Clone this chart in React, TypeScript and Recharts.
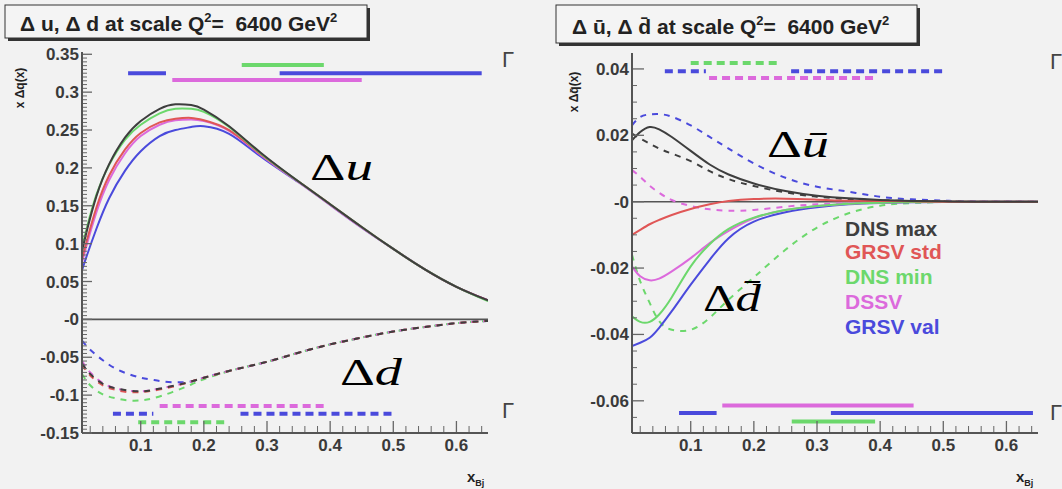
import React from 'react';
import { LineChart, Line, XAxis, YAxis, ReferenceLine } from 'recharts';

// ---------- models ----------
const models = ['DNS max', 'GRSV std', 'DNS min', 'DSSV', 'GRSV val'];
const modelColors = ['#3e3e3e', '#e05656', '#6cd86c', '#dc6adc', '#4a4adc'];

// ---------- left panel: x Δu (solid), x Δd (dashed) ----------
const xDu = [0.007, 0.015, 0.03, 0.05, 0.075, 0.1, 0.13, 0.155, 0.18, 0.2, 0.24, 0.29, 0.35, 0.4, 0.45, 0.5, 0.55, 0.6, 0.65];
const duDnsMax = [0.09, 0.118, 0.163, 0.205, 0.24, 0.262, 0.278, 0.284, 0.283, 0.277, 0.255, 0.22, 0.182, 0.152, 0.122, 0.093, 0.066, 0.043, 0.025];
const duGrsvStd = [0.08, 0.105, 0.148, 0.19, 0.224, 0.246, 0.26, 0.265, 0.266, 0.263, 0.25, 0.218, 0.182, 0.152, 0.122, 0.093, 0.066, 0.043, 0.025];
const duDnsMin = [0.095, 0.122, 0.165, 0.204, 0.237, 0.257, 0.272, 0.278, 0.278, 0.274, 0.254, 0.219, 0.182, 0.152, 0.122, 0.093, 0.066, 0.043, 0.024];
const duDssv = [0.075, 0.1, 0.142, 0.184, 0.219, 0.242, 0.257, 0.263, 0.264, 0.262, 0.249, 0.217, 0.181, 0.151, 0.121, 0.093, 0.066, 0.043, 0.025];
const duGrsvVal = [0.065, 0.085, 0.12, 0.16, 0.196, 0.222, 0.242, 0.25, 0.254, 0.255, 0.245, 0.215, 0.181, 0.151, 0.121, 0.093, 0.066, 0.043, 0.025];

const xDd = [0.007, 0.02, 0.04, 0.06, 0.08, 0.1, 0.12, 0.15, 0.18, 0.2, 0.25, 0.3, 0.35, 0.4, 0.45, 0.5, 0.55, 0.6, 0.65];
const ddDnsMax = [-0.058, -0.072, -0.085, -0.091, -0.094, -0.095, -0.093, -0.088, -0.082, -0.077, -0.066, -0.056, -0.044, -0.033, -0.024, -0.016, -0.01, -0.005, -0.002];
const ddGrsvStd = [-0.06, -0.074, -0.087, -0.093, -0.096, -0.096, -0.094, -0.089, -0.082, -0.077, -0.066, -0.056, -0.044, -0.033, -0.024, -0.016, -0.01, -0.005, -0.002];
const ddDnsMin = [-0.072, -0.087, -0.099, -0.104, -0.107, -0.107, -0.104, -0.096, -0.086, -0.079, -0.066, -0.056, -0.044, -0.033, -0.024, -0.016, -0.01, -0.005, -0.002];
const ddDssv = [-0.055, -0.07, -0.084, -0.091, -0.094, -0.095, -0.093, -0.088, -0.082, -0.077, -0.066, -0.056, -0.044, -0.033, -0.024, -0.016, -0.01, -0.005, -0.002];
const ddGrsvVal = [-0.028, -0.04, -0.054, -0.065, -0.072, -0.077, -0.08, -0.083, -0.082, -0.077, -0.066, -0.056, -0.044, -0.033, -0.024, -0.016, -0.01, -0.005, -0.002];

// ---------- right panel: x Δū (solid), x Δd̄ (dashed) ----------
const xSea = [0.007, 0.02, 0.035, 0.05, 0.07, 0.1, 0.13, 0.16, 0.2, 0.25, 0.3, 0.35, 0.4, 0.45, 0.5, 0.55, 0.65];
const ubDnsMax = [0.0185, 0.021, 0.0225, 0.0218, 0.0195, 0.0153, 0.0112, 0.0082, 0.0055, 0.0032, 0.0018, 0.001, 0.0005, 0.0002, 0.0001, 0, 0];
const ubGrsvStd = [-0.01, -0.0085, -0.0068, -0.0055, -0.004, -0.0022, -0.0008, 0.0002, 0.0008, 0.0009, 0.0006, 0.0003, 0.0002, 0.0001, 0, 0, 0];
const ubDnsMin = [-0.0345, -0.0362, -0.0362, -0.034, -0.0288, -0.0195, -0.0128, -0.0082, -0.0048, -0.0025, -0.0013, -0.0006, -0.0003, -0.0001, 0, 0, 0];
const ubDssv = [-0.0195, -0.0225, -0.0237, -0.0232, -0.021, -0.017, -0.0125, -0.0088, -0.005, -0.0025, -0.0013, -0.0006, -0.0003, -0.0001, 0, 0, 0];
const ubGrsvVal = [-0.0435, -0.0425, -0.041, -0.038, -0.033, -0.025, -0.0175, -0.011, -0.006, -0.0032, -0.0017, -0.0008, -0.0004, -0.0002, -0.0001, 0, 0];

const dbDnsMax = [0.0205, 0.019, 0.0175, 0.016, 0.0145, 0.0122, 0.0092, 0.0068, 0.0047, 0.0028, 0.0015, 0.0008, 0.0004, 0.0002, 0.0001, 0, 0];
const dbDnsMin = [-0.016, -0.024, -0.0305, -0.036, -0.0386, -0.0386, -0.035, -0.0295, -0.0228, -0.0145, -0.0078, -0.0035, -0.0012, -0.0004, -0.0001, 0, 0];
const dbDssv = [0.0095, 0.0075, 0.0048, 0.0027, 0.0005, -0.0013, -0.0023, -0.0027, -0.0025, -0.0015, -0.0008, -0.0004, -0.0002, -0.0001, 0, 0, 0];
const dbGrsvVal = [0.023, 0.0255, 0.0263, 0.0264, 0.0256, 0.023, 0.0195, 0.016, 0.0115, 0.0072, 0.0045, 0.003, 0.0015, 0.0007, 0.0003, 0.0001, 0];

// ---------- x ranges (bars at top / bottom): [model index, from, to, level] ----------
const leftSolidRanges = [[4, 0.08, 0.14, 0.325], [4, 0.32, 0.64, 0.325], [2, 0.26, 0.39, 0.336], [3, 0.15, 0.45, 0.316]];
const leftDashedRanges = [[3, 0.13, 0.39, -0.1145], [4, 0.056, 0.12, -0.1246], [4, 0.258, 0.5, -0.1246], [2, 0.096, 0.238, -0.1357]];
const rightDashedRanges = [[2, 0.1, 0.24, 0.0418], [4, 0.059, 0.124, 0.0393], [4, 0.259, 0.506, 0.0393], [3, 0.129, 0.395, 0.0373]];
const rightSolidRanges = [[3, 0.15, 0.453, -0.0614], [4, 0.0815, 0.141, -0.0637], [4, 0.322, 0.642, -0.0637], [2, 0.26, 0.392, -0.0662]];

// ---------- ticks ----------
const xMajor = [0.1, 0.2, 0.3, 0.4, 0.5, 0.6];
const xMajorLabels = ['0.1', '0.2', '0.3', '0.4', '0.5', '0.6'];
const leftYMajor = [-0.15, -0.1, -0.05, 0, 0.05, 0.1, 0.15, 0.2, 0.25, 0.3, 0.35];
const leftYLabels = ['-0.15', '-0.1', '-0.05', '-0', '0.05', '0.1', '0.15', '0.2', '0.25', '0.3', '0.35'];
const rightYMajor = [-0.06, -0.04, -0.02, 0, 0.02, 0.04];
const rightYLabels = ['-0.06', '-0.04', '-0.02', '-0', '0.02', '0.04'];

const steps = (a: number, b: number, s: number) => {
  const out: number[] = [];
  const n = Math.round((b - a) / s);
  for (let i = 0; i <= n; i++) out.push(Math.round((a + i * s) * 10000) / 10000);
  return out;
};
const xAllTicks = steps(0.02, 0.64, 0.02);
const leftYAllTicks = steps(-0.15, 0.35, 0.005);
const rightYAllTicks = steps(-0.065, 0.04, 0.005);

const pts = (xs: number[], ys: number[]) => xs.map((x, i) => ({ x, y: ys[i] }));
const near = (a: number, b: number) => Math.abs(a - b) < 1e-6;
const labelOf = (v: number, majors: number[], labels: string[]) => {
  const i = majors.findIndex((m) => near(m, v));
  return i >= 0 ? labels[i] : null;
};

const FONT = 'Liberation Sans, Arial, sans-serif';
const FRAME = '#555';
const TICK = '#666';
const LABEL_SIZE = 17;

type S = { key: string; color: string; dashed: boolean; data: { x: number; y: number }[]; width: number; dash: string; linear?: boolean };

const rangeSeries = (list: number[][], dashed: boolean, prefix: string): S[] =>
  list.map((r, i) => ({
    key: `${prefix}${i}`,
    color: modelColors[r[0]],
    dashed,
    data: [{ x: r[1], y: r[3] }, { x: r[2], y: r[3] }],
    width: 4,
    dash: '8 5',
    linear: true,
  }));

const curve = (key: string, mi: number, xs: number[], ys: number[], dashed: boolean): S => ({
  key, color: modelColors[mi], dashed, data: pts(xs, ys), width: 2, dash: '6 6',
});

const leftSeries: S[] = [
  curve('dd4', 4, xDd, ddGrsvVal, true),
  curve('dd2', 2, xDd, ddDnsMin, true),
  curve('dd3', 3, xDd, ddDssv, true),
  curve('dd1', 1, xDd, ddGrsvStd, true),
  curve('dd0', 0, xDd, ddDnsMax, true),
  curve('du4', 4, xDu, duGrsvVal, false),
  curve('du3', 3, xDu, duDssv, false),
  curve('du1', 1, xDu, duGrsvStd, false),
  curve('du2', 2, xDu, duDnsMin, false),
  curve('du0', 0, xDu, duDnsMax, false),
  ...rangeSeries(leftSolidRanges, false, 'ls'),
  ...rangeSeries(leftDashedRanges, true, 'ld'),
];

const rightSeries: S[] = [
  curve('db4', 4, xSea, dbGrsvVal, true),
  curve('db3', 3, xSea, dbDssv, true),
  curve('db2', 2, xSea, dbDnsMin, true),
  curve('db0', 0, xSea, dbDnsMax, true),
  curve('ub4', 4, xSea, ubGrsvVal, false),
  curve('ub3', 3, xSea, ubDssv, false),
  curve('ub2', 2, xSea, ubDnsMin, false),
  curve('ub1', 1, xSea, ubGrsvStd, false),
  curve('ub0', 0, xSea, ubDnsMax, false),
  ...rangeSeries(rightDashedRanges, true, 'rd'),
  ...rangeSeries(rightSolidRanges, false, 'rs'),
];

// x tick: y prop is the bottom edge of the plot (tickSize 0, tickMargin 0)
const makeXTick = () => (props: any) => {
  const { x, y, payload } = props;
  const lab = labelOf(payload.value, xMajor, xMajorLabels);
  const len = lab ? 11 : 6;
  return (
    <g>
      <line x1={x} x2={x} y1={y - 1} y2={y - 1 - len} stroke={TICK} strokeWidth={lab ? 1.3 : 1} />
      {lab && (
        <text x={x} y={y + 18} textAnchor="middle" fontFamily={FONT} fontSize={LABEL_SIZE} fontWeight={700} fill="#3a3a3a">{lab}</text>
      )}
    </g>
  );
};

// y tick: x prop is the left edge of the plot
const makeYTick = (majors: number[], labels: string[], majorLen: number) => (props: any) => {
  const { x, y, payload } = props;
  const lab = labelOf(payload.value, majors, labels);
  const len = lab ? majorLen : 4;
  return (
    <g>
      <line x1={x + 1} x2={x + 1 + len} y1={y} y2={y} stroke={TICK} strokeWidth={lab ? 1.3 : 1} />
      {lab && (
        <text x={x - 3} y={y + 6} textAnchor="end" fontFamily={FONT} fontSize={LABEL_SIZE} fontWeight={700} fill="#3a3a3a">{lab}</text>
      )}
    </g>
  );
};

type PanelProps = {
  left: number; width: number; margin: { top: number; right: number; bottom: number; left: number };
  yDomain: [number, number]; yMajor: number[]; yLabels: string[]; yAll: number[];
  yMajorLen: number; series: S[];
};

function Panel(p: PanelProps) {
  const xDomain: [number, number] = [0.007, 0.65];
  return (
    <div style={{ position: 'absolute', left: p.left, top: 0 }}>
      <LineChart width={p.width} height={489} margin={p.margin}>
        <XAxis xAxisId="main" dataKey="x" type="number" domain={xDomain} allowDataOverflow ticks={xAllTicks} interval={0}
          tickLine={false} tickSize={0} tickMargin={0} height={30}
          axisLine={{ stroke: FRAME, strokeWidth: 2 }} tick={makeXTick()} />
        <XAxis xAxisId="top" orientation="top" type="number" domain={xDomain} allowDataOverflow height={0} ticks={[]}
          tick={false} tickLine={false} axisLine={{ stroke: FRAME, strokeWidth: 2 }} />
        <YAxis yAxisId="main" type="number" domain={p.yDomain} allowDataOverflow ticks={p.yAll} interval={0}
          tickLine={false} tickSize={0} tickMargin={0} width={60}
          axisLine={{ stroke: FRAME, strokeWidth: 2 }} tick={makeYTick(p.yMajor, p.yLabels, p.yMajorLen)} />
        <YAxis yAxisId="right" orientation="right" type="number" domain={p.yDomain} allowDataOverflow width={0} ticks={[]}
          tick={false} tickLine={false} axisLine={{ stroke: FRAME, strokeWidth: 2 }} />
        <ReferenceLine xAxisId="main" yAxisId="main" y={0} stroke={FRAME} strokeWidth={1.6} />
        {p.series.map((s) => (
          <Line key={s.key} xAxisId="main" yAxisId="main" data={s.data} dataKey="y"
            type={s.linear ? 'linear' : 'natural'} stroke={s.color} strokeWidth={s.width}
            strokeDasharray={s.dashed ? s.dash : undefined} dot={false} activeDot={false}
            isAnimationActive={false} />
        ))}
      </LineChart>
    </div>
  );
}

function TitleBox({ x, y, w, h }: { x: number; y: number; w: number; h: number }) {
  return (
    <g>
      <rect x={x + 3} y={y + 3} width={w} height={h} fill="#333" />
      <rect x={x} y={y} width={w} height={h} fill="#f4f4f4" stroke="#333" strokeWidth={1} />
    </g>
  );
}

const legendBaselines = [236, 259, 284, 309, 334];

function BigLabel({ x, y, w, letter }: { x: number; y: number; w: number; letter: string }) {
  return (
    <text x={x} y={y} fontFamily="Liberation Serif, Times New Roman, serif" fontSize={38} fill="#000"
      textLength={w} lengthAdjust="spacingAndGlyphs">
      Δ<tspan fontStyle="italic">{letter}</tspan>
    </text>
  );
}

export default function App() {
  const txt = { fontFamily: FONT, fill: '#222' } as const;
  return (
    <div style={{ position: 'absolute', left: 0, top: 0, width: 1062, height: 489, background: '#f2f2f2', overflow: 'hidden' }}>
      <Panel left={0} width={531} margin={{ top: 52, right: 43, bottom: 26, left: 22 }}
        yDomain={[-0.15, 0.353]} yMajor={leftYMajor} yLabels={leftYLabels} yAll={leftYAllTicks} yMajorLen={9}
        series={leftSeries} />
      <Panel left={531} width={531} margin={{ top: 53, right: 24, bottom: 26, left: 41 }}
        yDomain={[-0.0697, 0.0448]} yMajor={rightYMajor} yLabels={rightYLabels} yAll={rightYAllTicks} yMajorLen={11}
        series={rightSeries} />
      <svg width={1062} height={489} style={{ position: 'absolute', left: 0, top: 0, pointerEvents: 'none' }}>
        <TitleBox x={5} y={5} w={362} h={33} />
        <text x={20} y={31} {...txt} fontSize={21} fontWeight={700} style={{ whiteSpace: 'pre' }}>
          {'Δ u, Δ d at scale Q'}<tspan dy={-9} fontSize={13}>2</tspan><tspan dy={9}>{'=  6400 GeV'}</tspan><tspan dy={-9} fontSize={13}>2</tspan>
        </text>
        <TitleBox x={556} y={5} w={361} h={38} />
        <text x={572} y={34} {...txt} fontSize={21} fontWeight={700} style={{ whiteSpace: 'pre' }}>
          {'Δ ū, Δ d\u0304 at scale Q'}<tspan dy={-9} fontSize={13}>2</tspan><tspan dy={9}>{'=  6400 GeV'}</tspan><tspan dy={-9} fontSize={13}>2</tspan>
        </text>

        <text transform="translate(24,88) rotate(-90)" textAnchor="middle" {...txt} fontSize={12} fontWeight={700}>x Δq(x)</text>
        <text transform="translate(578,92) rotate(-90)" textAnchor="middle" {...txt} fontSize={12} fontWeight={700}>{'x Δq\u0304(x)'}</text>

        <text x={467} y={482} {...txt} fontSize={15} fontWeight={700}>x<tspan dy={4} fontSize={9}>Bj</tspan></text>
        <text x={1016} y={482} {...txt} fontSize={15} fontWeight={700}>x<tspan dy={4} fontSize={9}>Bj</tspan></text>

        <text x={502} y={67} {...txt} fill="#444" fontSize={22}>Γ</text>
        <text x={502} y={418} {...txt} fill="#444" fontSize={22}>Γ</text>
        <text x={1050} y={69} {...txt} fill="#444" fontSize={22}>Γ</text>
        <text x={1050} y={420} {...txt} fill="#444" fontSize={22}>Γ</text>

        <BigLabel x={310} y={180} w={63} letter="u" />
        <BigLabel x={340} y={385} w={62} letter="d" />
        <BigLabel x={767} y={157} w={62} letter={'u\u0304'} />
        <BigLabel x={703} y={311} w={58} letter={'d\u0304'} />

        {models.map((m, i) => (
          <text key={m} x={845} y={legendBaselines[i]} fontFamily={FONT} fontSize={21} fontWeight={700} fill={modelColors[i]}>{m}</text>
        ))}
      </svg>
    </div>
  );
}
